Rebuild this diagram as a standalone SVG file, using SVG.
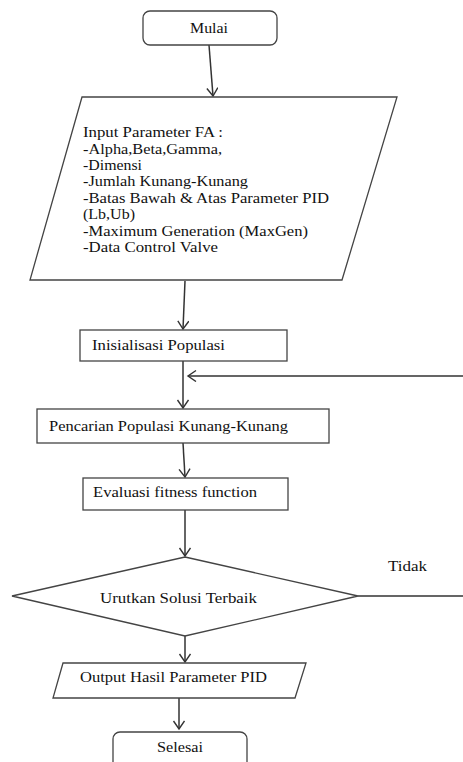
<svg xmlns="http://www.w3.org/2000/svg" width="463" height="762" viewBox="0 0 463 762" font-family="'Liberation Serif', 'Times New Roman', serif">
<defs>
<marker id="arr" markerUnits="userSpaceOnUse" markerWidth="12" markerHeight="14" refX="9" refY="6" orient="auto">
<path d="M1,0.5 L9,6 L1,11.5" fill="none" stroke="#333" stroke-width="1.4"/>
</marker>
<style>
.s{fill:#fff;stroke:#444;stroke-width:1.3}
.c{fill:none;stroke:#333;stroke-width:1.5}
text{font-family:'Liberation Serif','Times New Roman',serif;font-size:15.5px;fill:#111}
</style>
</defs>
<rect width="463" height="762" fill="#fff"/>
<g id="connectors">
<path class="c" d="M209,45 L213,96" marker-end="url(#arr)"/>
<path class="c" d="M185,281 L183,329" marker-end="url(#arr)"/>
<path class="c" d="M183,361 L183,408" marker-end="url(#arr)"/>
<path class="c" d="M183,443 L185,477" marker-end="url(#arr)"/>
<path class="c" d="M185,510 L185,556" marker-end="url(#arr)"/>
<path class="c" d="M358,596 H466 V376 H188" marker-end="url(#arr)"/>
<path class="c" d="M185,636 L185,662" marker-end="url(#arr)"/>
<path class="c" d="M179,698 L179,729" marker-end="url(#arr)"/>
<text x="388" y="571" textLength="39" lengthAdjust="spacingAndGlyphs">Tidak</text>
</g>
<g id="mulai">
<rect class="s" x="143" y="11" width="134" height="34" rx="7"/>
<text x="190" y="33" textLength="38" lengthAdjust="spacingAndGlyphs">Mulai</text>
</g>
<g id="input">
<polygon class="s" points="82,97 397,97 342,280 30,280"/>
<text x="83" y="137" textLength="140" lengthAdjust="spacingAndGlyphs">Input Parameter FA :</text>
<text x="83" y="153.5" textLength="139" lengthAdjust="spacingAndGlyphs">-Alpha,Beta,Gamma,</text>
<text x="83" y="170" textLength="59" lengthAdjust="spacingAndGlyphs">-Dimensi</text>
<text x="83" y="186" textLength="165" lengthAdjust="spacingAndGlyphs">-Jumlah Kunang-Kunang</text>
<text x="83" y="202.5" textLength="246" lengthAdjust="spacingAndGlyphs">-Batas Bawah &amp; Atas Parameter PID</text>
<text x="83" y="219" textLength="52" lengthAdjust="spacingAndGlyphs">(Lb,Ub)</text>
<text x="83" y="235.5" textLength="225" lengthAdjust="spacingAndGlyphs">-Maximum Generation (MaxGen)</text>
<text x="83" y="252" textLength="135" lengthAdjust="spacingAndGlyphs">-Data Control Valve</text>
</g>
<g id="inisialisasi">
<rect class="s" x="80" y="330" width="207" height="31"/>
<text x="92" y="350" textLength="133" lengthAdjust="spacingAndGlyphs">Inisialisasi Populasi</text>
</g>
<g id="pencarian">
<rect class="s" x="37" y="409" width="292" height="34"/>
<text x="49" y="431" textLength="239" lengthAdjust="spacingAndGlyphs">Pencarian Populasi Kunang-Kunang</text>
</g>
<g id="evaluasi">
<rect class="s" x="83" y="478" width="205" height="32"/>
<text x="93" y="497" textLength="164" lengthAdjust="spacingAndGlyphs">Evaluasi fitness function</text>
</g>
<g id="urutkan">
<polygon class="s" points="185,557 358,596 185,636 12,596"/>
<text x="100" y="603" textLength="157" lengthAdjust="spacingAndGlyphs">Urutkan Solusi Terbaik</text>
</g>
<g id="output">
<polygon class="s" points="63,663 306,663 295,698 53,698"/>
<text x="80" y="682" textLength="187" lengthAdjust="spacingAndGlyphs">Output Hasil Parameter PID</text>
</g>
<g id="selesai">
<rect class="s" x="113" y="732" width="134" height="44" rx="7"/>
<text x="157" y="752" textLength="46" lengthAdjust="spacingAndGlyphs">Selesai</text>
</g>
</svg>
